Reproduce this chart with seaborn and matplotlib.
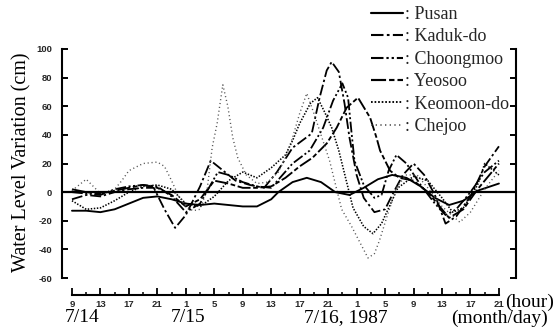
import matplotlib
matplotlib.use("Agg")
import matplotlib.pyplot as plt
import seaborn as sns
import pandas as pd
from matplotlib.lines import Line2D
from matplotlib.ticker import FixedLocator, FixedFormatter

# ---------------- data (hours since 7/14 09:00) ----------------
pusan_t = [0, 2, 4, 6, 8, 10, 12, 14, 16, 18, 20, 22, 24, 26, 28, 29, 31, 33, 35, 37, 39, 41, 43, 45, 47, 49, 51, 53, 55, 57, 60]
pusan_v = [-13, -13, -14, -12, -8, -4, -3, -5, -8, -9, -8, -9, -10, -10, -5, 0, 7, 10, 7, 0, -2, 3, 9, 12, 10, 4, -4, -9, -6, 1, 6]

kaduk_t = [0, 2, 4, 6, 8, 10, 11.5, 13, 14.5, 16, 18, 19.5, 21, 23, 25, 27, 28.8, 31, 33.7, 34.8, 35.8, 36.5, 37.5, 38.3, 39, 40, 41, 42.5, 44, 45, 46.5, 48, 49.5, 51, 52.5, 54, 56, 58, 60]
kaduk_v = [-5, -2, -3, 0, 2, 3, 3, -12, -25, -16, 4, 22, 16, 8, 5, 3, 14, 31, 41, 66, 85, 91, 84, 62, 38, 12, -4, -14, -12, -2, 12, 20, 12, -2, -22, -17, -3, 18, 32]

choong_t = [0, 2, 4, 6, 8, 10, 12, 14, 16, 18, 20.5, 22, 24, 26, 28, 31, 33.4, 35.3, 36.7, 38, 38.8, 39.3, 39.7, 41, 42.5, 43.5, 44.5, 45.6, 47, 49, 51, 52.5, 54, 56, 58, 60]
choong_v = [0, -1, -2, 2, 4, 5, 4, -3, -14, -8, 14, 12, 7, 4, 3, 20, 29, 45, 64, 76, 66, 41, 22, 5, -4, -2, 15, 26, 20, 5, -8, -16, -12, 0, 14, 22]

yeosoo_t = [0, 2, 4, 6, 8, 10, 12, 14, 16, 18, 20, 22, 24, 26, 28, 30, 32, 33.8, 35.8, 37.2, 38.6, 40.2, 41.9, 42.8, 43.3, 44.7, 46, 48, 50, 52, 53, 55, 57, 60]
yeosoo_v = [2, 0, -1, 1, 3, 5, 3, -2, -10, -5, 8, 6, 3, 3, 4, 10, 18, 24, 34, 45, 59, 66, 52, 38, 29, 15, 10, 8, 0, -12, -18, -12, 2, 20]

keomoon_t = [0, 2, 4, 6, 8, 10, 12, 14, 16, 18, 20, 22, 24, 26, 28, 30, 31, 32, 33.5, 34.5, 35.5, 36.5, 37.5, 39.5, 41, 42.3, 43.5, 44.6, 45.8, 48, 50, 52, 53.5, 55, 57, 58, 60]
keomoon_v = [-6, -12, -11, -6, 0, 4, 5, 2, -8, -10, -3, 8, 14, 10, 17, 26, 36, 48, 62, 66, 56, 45, 29, -11, -24, -29, -22, -10, 3, 11, 8, -4, -14, -11, 5, 20, 12]

chejoo_t = [0, 1, 2, 3, 4, 6, 7, 8, 10, 12, 13, 14, 15, 16, 17, 18, 19, 19.7, 20.4, 21.2, 21.9, 22.6, 23.3, 24.5, 26, 27.5, 29, 30, 31, 32, 33, 34, 35, 36.2, 37.9, 39.3, 41.6, 42.5, 43.2, 44.4, 45.7, 47, 48.5, 50, 52, 54.5, 56, 58, 60]
chejoo_v = [1, 5, 9, 4, -1, 2, 8, 15, 20, 21, 18, 8, -3, -10, -13, -12, 2, 31, 48, 75, 60, 38, 24, 12, 6, 7, 14, 24, 38, 55, 69, 55, 40, 22, -12, -24, -46, -43, -34, -15, 4, 12, 12, 3, -10, -21, -14, 2, 15]

station_names = ["Pusan", "Kaduk-do", "Choongmoo", "Yeosoo", "Keomoon-do", "Chejoo"]
hour_ticks = [0, 4, 8, 12, 16, 20, 24, 28, 32, 36, 40, 44, 48, 52, 56, 60]
hour_labels = ["9", "13", "17", "21", "1", "5", "9", "13", "17", "21", "1", "5", "9", "13", "17", "21"]
y_ticks = [100, 80, 60, 40, 20, 0, -20, -40, -60]
y_labels = ["100", "80", "60", "40", "20", "0", "-20", "-40", "-60"]

series = [
    (pusan_t, pusan_v),
    (kaduk_t, kaduk_v),
    (choong_t, choong_v),
    (yeosoo_t, yeosoo_v),
    (keomoon_t, keomoon_v),
    (chejoo_t, chejoo_v),
]

# ---------------- styles ----------------
styles = [
    dict(color="black", lw=1.35, dashes=None),
    dict(color="black", lw=1.3, dashes=(6, 1.6, 1.3, 1.6)),
    dict(color="black", lw=1.3, dashes=(6, 1.4, 1.1, 1.4, 1.1, 1.4)),
    dict(color="black", lw=1.35, dashes=(7, 1.4, 2.5, 1.4)),
    dict(color="black", lw=1.15, dashes=(0.9, 1.0)),
    dict(color="#555555", lw=1.0, dashes=(0.8, 2.0)),
]

sns.set_theme(style="white")
serif = ["Liberation Serif", "DejaVu Serif"]
plt.rcParams["font.family"] = ["Liberation Sans", "DejaVu Sans"]

W, H = 559, 327
fig = plt.figure(figsize=(W / 100, H / 100), dpi=100)
fig.patch.set_facecolor("white")
L, R, T, B = 62, 516, 49, 278
ax = fig.add_axes([L / W, 1 - B / H, (R - L) / W, (B - T) / H])
ax.set_facecolor("white")

handles = []
for (t, v), st, name in zip(series, styles, station_names):
    df = pd.DataFrame({"t": t, "v": v})
    sns.lineplot(data=df, x="t", y="v", ax=ax, color=st["color"], lw=st["lw"],
                 sort=False, estimator=None, legend=False)
    ln = ax.lines[-1]
    if st["dashes"] is not None:
        ln.set_dashes(st["dashes"])
    h = Line2D([0], [0], color=st["color"], lw=st["lw"] + 0.2)
    if st["dashes"] is not None:
        h.set_dashes(st["dashes"])
    handles.append(h)

ax.axhline(0, color="black", lw=1.6, zorder=5)

ax.set_xlim(-1.4, 62.4)
ax.set_ylim(-60, 100)
ax.set_xlabel("")
ax.set_ylabel("")

for s in ["left", "right", "bottom"]:
    ax.spines[s].set_visible(True)
    ax.spines[s].set_color("black")
    ax.spines[s].set_linewidth(1.5)
ax.spines["top"].set_visible(False)
ax.spines["bottom"].set_position(("outward", 12))
ax.spines["bottom"].set_bounds(0, 60)

ax.yaxis.set_major_locator(FixedLocator(y_ticks))
ax.yaxis.set_major_formatter(FixedFormatter(y_labels))
ax.tick_params(axis="y", which="major", direction="in", left=True, right=True,
               length=4, width=1.4, color="black", pad=7, labelsize=6.8)
for lab in ax.get_yticklabels():
    lab.set_fontweight("bold")

ax.xaxis.set_major_locator(FixedLocator(hour_ticks))
ax.xaxis.set_major_formatter(FixedFormatter(hour_labels))
ax.xaxis.set_minor_locator(FixedLocator(list(range(0, 61, 2))))
ax.tick_params(axis="x", which="major", direction="in", bottom=True, length=5,
               width=1.3, color="black", pad=4, labelsize=6.8)
ax.tick_params(axis="x", which="minor", direction="in", bottom=True, length=2.5,
               width=1.1, color="black")
for lab in ax.get_xticklabels():
    lab.set_fontweight("bold")

# ---------------- texts ----------------
fig.text(22 / W, 1 - 162 / H, "Water Level Variation (cm)", rotation=90,
         ha="center", va="center", fontsize=14.5, family=serif, color="black")
fig.text(505 / W, 1 - 302 / H, "(hour)", ha="left", va="center",
         fontsize=14, family=serif, color="black")
fig.text(65 / W, 1 - 318 / H, "7/14", ha="left", va="center",
         fontsize=14, family=serif, color="black")
fig.text(188 / W, 1 - 318 / H, "7/15", ha="center", va="center",
         fontsize=14, family=serif, color="black")
fig.text(346 / W, 1 - 318 / H, "7/16, 1987", ha="center", va="center",
         fontsize=14, family=serif, color="black")
fig.text(500 / W, 1 - 318 / H, "(month/day)", ha="center", va="center",
         fontsize=14, family=serif, color="black")

leg = fig.legend(handles, [": " + n for n in station_names], loc="upper left",
                 bbox_to_anchor=(371 / W, 1 - 6 / H), frameon=False,
                 prop={"family": serif, "size": 13}, handlelength=1.75,
                 handletextpad=0.12, labelspacing=0.3, borderpad=0,
                 borderaxespad=0)

fig.savefig("out.png", dpi=100, facecolor="white")
